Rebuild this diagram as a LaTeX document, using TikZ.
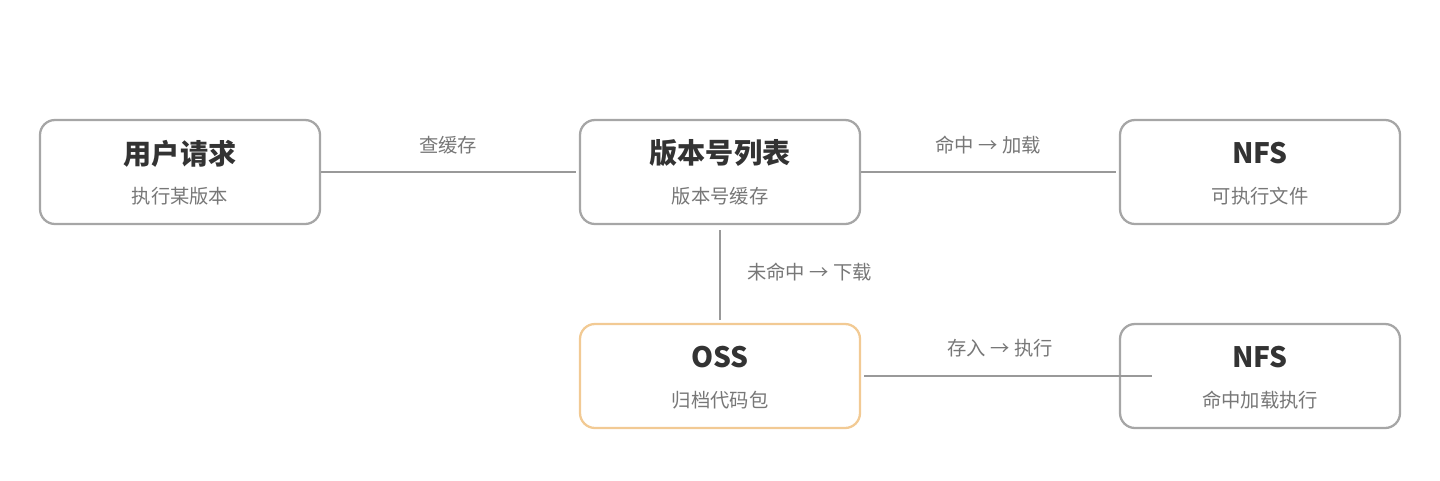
\documentclass[tikz,border=0pt]{standalone}
\usepackage{fontspec}
\setmainfont{Noto Sans CJK SC}
\usetikzlibrary{positioning}
\definecolor{boxgray}{HTML}{A6A6A6}
\definecolor{boxorange}{HTML}{F2CA94}
\definecolor{linegray}{HTML}{999999}
\definecolor{titlecol}{HTML}{333333}
\definecolor{subcol}{HTML}{777777}
\tikzset{
  box/.style={draw=boxgray, line width=1.3pt, rounded corners=0.3cm,
    minimum width=5.6cm, minimum height=2.08cm},
  ttl/.style={font=\fontsize{16}{18}\selectfont\bfseries, text=titlecol},
  sub/.style={font=\fontsize{11}{13}\selectfont, text=subcol},
  lbl/.style={font=\fontsize{11}{13}\selectfont, text=subcol},
  conn/.style={draw=linegray, line width=1.4pt}
}
\begin{document}
\begin{tikzpicture}
  \useasboundingbox (0,0) rectangle (28.8,9.6);

  % boxes
  \node[box] (req) at (3.6,6.16) {};
  \node[box] (ver) at (14.4,6.16) {};
  \node[box] (nfsa) at (25.2,6.16) {};
  \node[box, draw=boxorange] (oss) at (14.4,2.08) {};
  \node[box] (nfsb) at (25.2,2.08) {};

  % texts
  \node[ttl] (reqt) at (3.6,6.53) {用户请求};
  \node[sub] (reqs) at (3.6,5.67) {执行某版本};
  \node[ttl] (vert) at (14.4,6.53) {版本号列表};
  \node[sub] (vers) at (14.4,5.67) {版本号缓存};
  \node[ttl] (nfsat) at (25.2,6.53) {NFS};
  \node[sub] (nfsas) at (25.2,5.67) {可执行文件};
  \node[ttl] (osst) at (14.4,2.45) {OSS};
  \node[sub] (osss) at (14.4,1.59) {归档代码包};
  \node[ttl] (nfsbt) at (25.2,2.45) {NFS};
  \node[sub] (nfsbs) at (25.2,1.59) {命中加载执行};

  % connectors
  \coordinate (c1) at (11.52,6.16);
  \coordinate (c2) at (22.32,6.16);
  \coordinate (c3) at (14.4,5.0);
  \coordinate (c4) at (14.4,3.2);
  \coordinate (c5) at (17.28,2.08);
  \coordinate (c6) at (23.04,2.08);
  \draw[conn] (req.east) -- (c1);
  \draw[conn] (ver.east) -- (c2);
  \draw[conn] (c3) -- (c4);
  \draw[conn] (c5) -- (c6);

  % labels
  \node[lbl] (l1) at (8.96,6.7) {查缓存};
  \node[lbl] (l2) at (19.76,6.7) {命中 → 加载};
  \node[lbl, anchor=west] (l3) at (14.82,4.16) {未命中 → 下载};
  \node[lbl] (l4) at (20.0,2.64) {存入 → 执行};
\end{tikzpicture}
\end{document}
